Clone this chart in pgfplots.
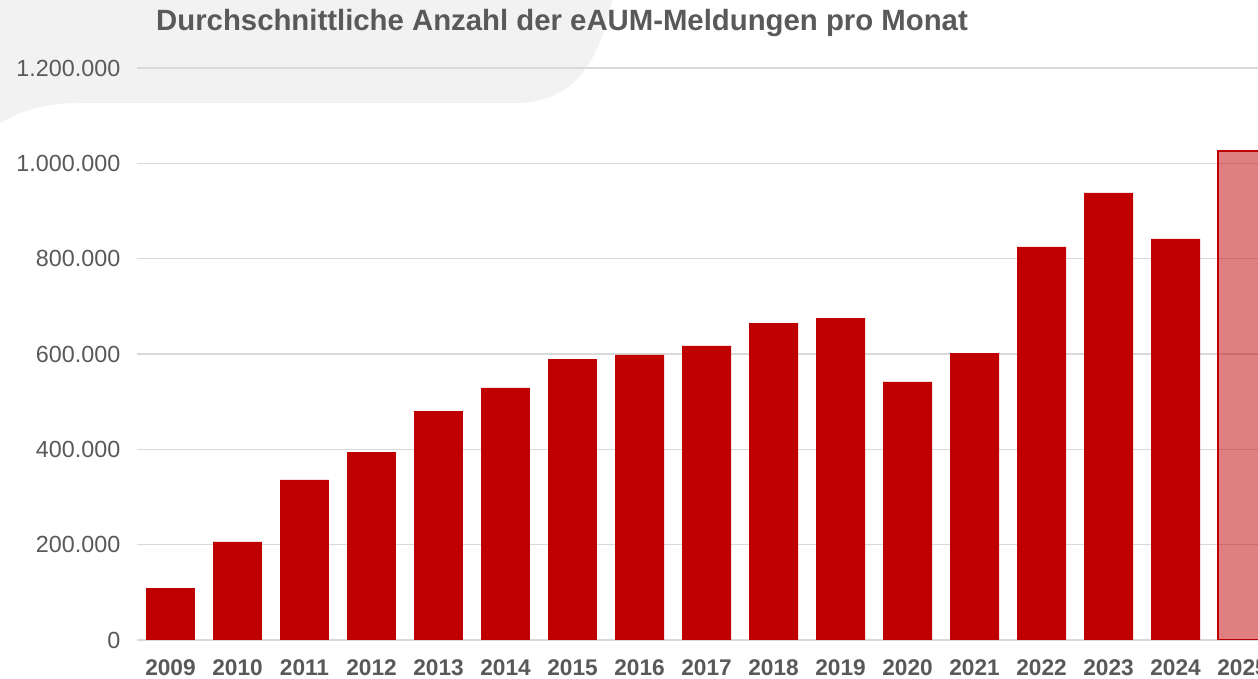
\documentclass[border=0pt]{standalone}
\usepackage{fontspec}
\setmainfont{Liberation Sans}
\usepackage{pgfplots}
\pgfplotsset{compat=1.18}
\definecolor{barred}{HTML}{C00000}
\definecolor{txtgray}{HTML}{595959}
\definecolor{gridgray}{HTML}{D9D9D9}
\definecolor{blobgray}{HTML}{F2F2F2}
\begin{document}
\begin{tikzpicture}
\useasboundingbox (0,0) rectangle (943.5pt,509.25pt);
\clip (0,0) rectangle (943.5pt,509.25pt);
\begin{scope}[x=0.75pt,y=0.75pt]
\fill[white] (0,0) rectangle (1258,679);
% decorative background shape (top-left)
\fill[blobgray] (0,679) -- (612,679) .. controls (600,619) and (575,576) .. (515,576)
  -- (80,576) .. controls (40,576) and (15,565) .. (0,556) -- cycle;
\node[font=\fontsize{22}{26}\selectfont\bfseries, text=txtgray] at (562,656) {Durchschnittliche Anzahl der eAUM-Meldungen pro Monat};
\end{scope}
\begin{axis}[
  at={(102.75pt,29.25pt)}, anchor=south west,
  scale only axis, width=840.75pt, height=429pt,
  xmin=-0.5, xmax=16.23, ymin=0, ymax=1200000,
  axis line style={draw=none},
  major tick length=0pt,
  ymajorgrids, grid style={gridgray, line width=1.1pt},
  ytick={0,200000,400000,600000,800000,1000000,1200000},
  scaled y ticks=false,
  /pgf/number format/fixed,
  /pgf/number format/1000 sep={.},
  /pgf/number format/assume math mode=true,
  yticklabel style={font=\fontsize{17.5}{20}\selectfont, text=txtgray, xshift=-9pt},
  xtick={0,...,16},
  xticklabels={2009,2010,2011,2012,2013,2014,2015,2016,2017,2018,2019,2020,2021,2022,2023,2024,2025},
  xticklabel style={font=\fontsize{17}{20}\selectfont\bfseries, text=txtgray, yshift=-11pt},
  clip=true,
]
\addplot[ybar, bar width=0.73, bar shift=0pt, fill=barred, draw=none] coordinates {
(0,109000) (1,205600) (2,335700) (3,394400) (4,480400) (5,528700) (6,589500) (7,598000)
(8,616800) (9,665000) (10,675500) (11,541300) (12,602000) (13,824500) (14,937800) (15,841300)
};
\addplot[ybar, bar width=0.73, bar shift=0pt, fill=barred, fill opacity=0.5, draw=barred, line width=1pt] coordinates {
(16,1025900)
};
\end{axis}
\end{tikzpicture}
\end{document}
